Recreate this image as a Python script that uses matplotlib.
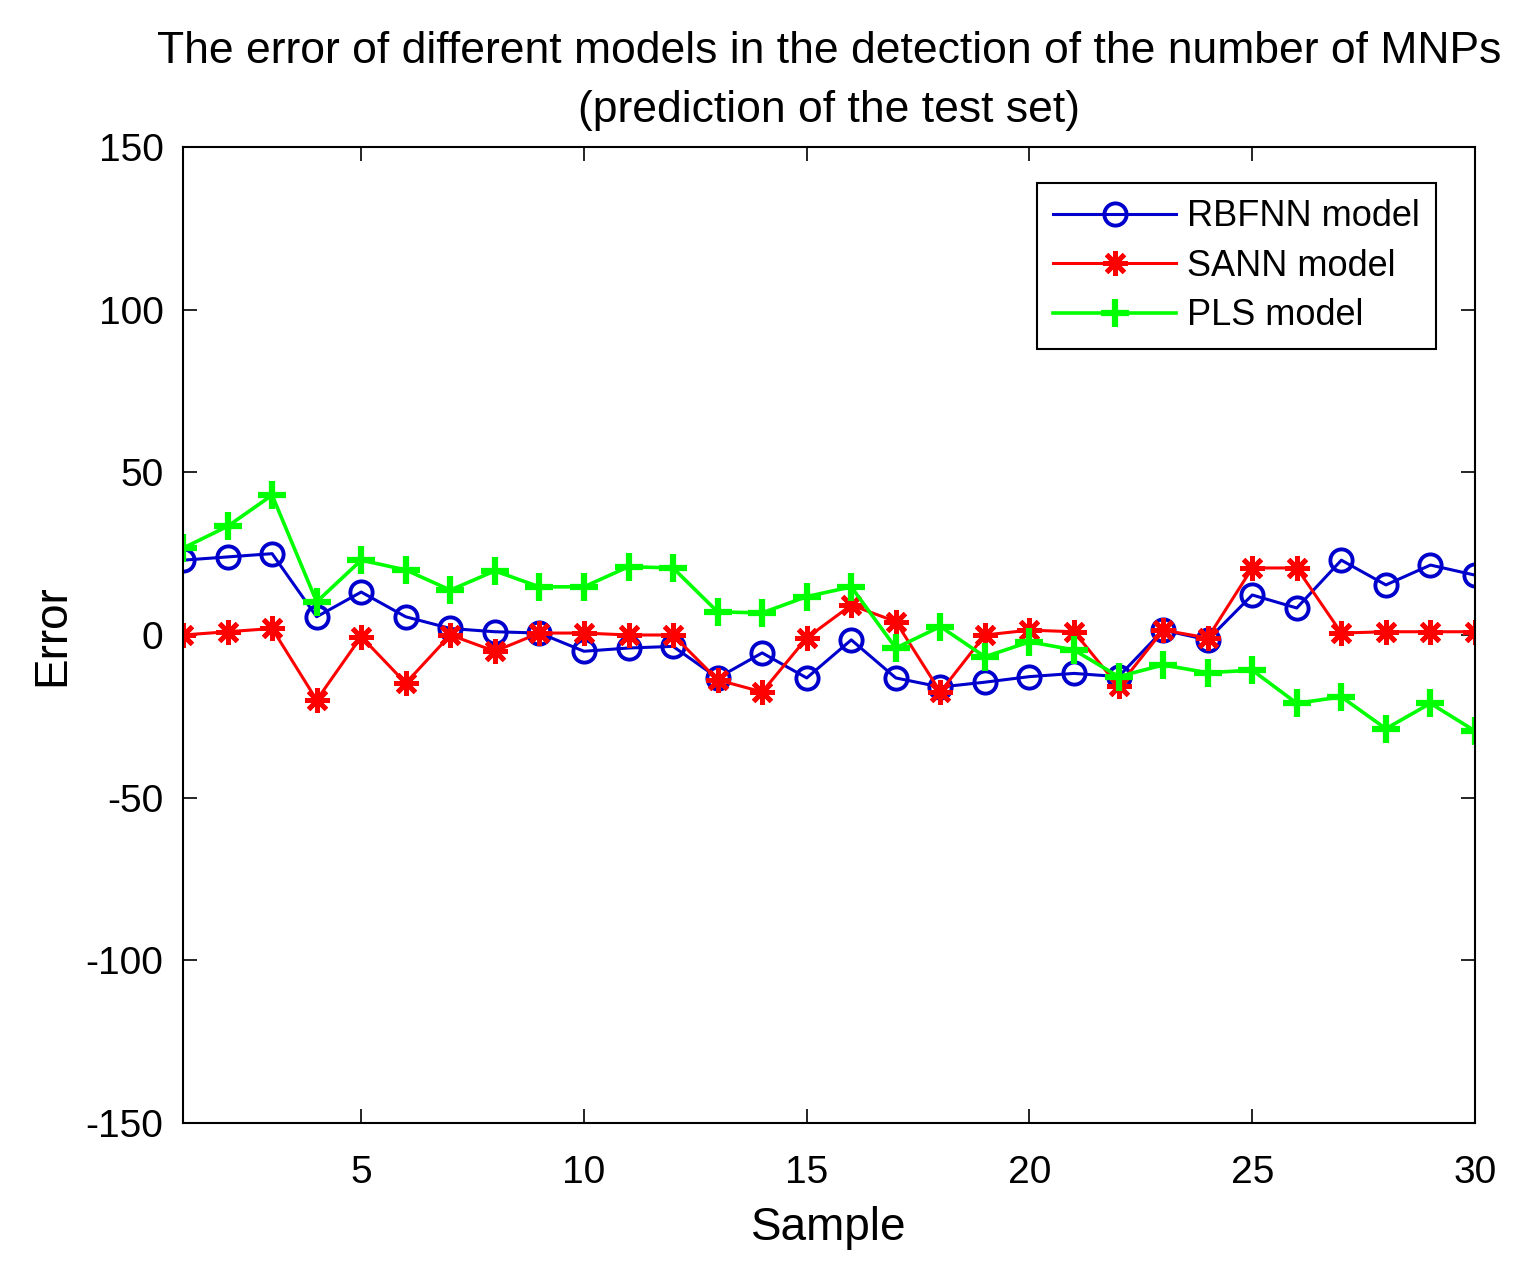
import matplotlib
matplotlib.use("Agg")
import matplotlib.pyplot as plt
import numpy as np

samples = list(range(1, 31))
rbfnn = [23.0, 24.0, 25.0, 5.6, 13.2, 5.6, 2.0, 1.0, 0.6, -5.0,
         -4.0, -3.5, -13.2, -5.5, -13.2, -1.5, -13.2, -16.0, -14.5, -12.8,
         -11.8, -12.8, 1.5, -1.5, 12.3, 8.3, 23.0, 15.4, 21.5, 18.4]
sann = [0.0, 1.0, 2.0, -20.0, -0.5, -14.8, 0.0, -5.0, 0.6, 0.6,
        0.0, 0.0, -13.8, -17.5, -0.9, 9.2, 4.1, -17.5, 0.0, 1.5,
        1.0, -15.8, 1.5, -0.9, 20.6, 20.6, 0.6, 1.0, 1.0, 1.0]
pls = [26.7, 33.4, 43.0, 10.2, 23.0, 20.0, 13.8, 19.7, 14.8, 14.8,
       21.0, 20.6, 7.1, 6.8, 11.8, 14.8, -4.0, 2.6, -6.7, -2.1,
       -4.6, -12.8, -9.2, -11.6, -10.8, -21.0, -19.0, -28.8, -21.0, -29.5]

tick_x = [5, 10, 15, 20, 25, 30]
tick_y = [-150, -100, -50, 0, 50, 100, 150]

plt.rcParams['font.family'] = ['Liberation Sans', 'DejaVu Sans']
plt.rcParams['axes.unicode_minus'] = False
fig = plt.figure(figsize=(15.28, 12.76), dpi=100)
ax = fig.add_axes([183/1528, 1-1123/1276, (1475-183)/1528, (1123-147)/1276])

ax.plot(samples, rbfnn, color=(0, 0, 0.8), lw=2.2, marker='o', ms=16,
        mfc='none', mew=2.8, label='RBFNN model')
ax.plot(samples, sann, color=(1, 0, 0), lw=2.2, marker=(8, 2, 0), ms=18,
        mew=3.5, label='SANN model')
ax.plot(samples, pls, color=(0, 1, 0), lw=2.6, marker='+', ms=20,
        mew=4.5, label='PLS model')

ax.set_xlim(1, 30)
ax.set_ylim(-150, 150)
ax.set_xticks(tick_x)
ax.set_yticks(tick_y)
ax.tick_params(direction='in', top=True, right=True, length=10, width=1.2,
               labelsize=28)
ax.tick_params(axis='x', pad=23)
ax.tick_params(axis='y', pad=14)
for s in ax.spines.values():
    s.set_linewidth(1.5)
ax.set_xlabel('Sample', fontsize=33, labelpad=11)
ax.set_ylabel('Error', fontsize=33, labelpad=8)
ax.set_title('The error of different models in the detection of the number of MNPs\n(prediction of the test set)',
             fontsize=32, pad=18, linespacing=1.55)

leg = ax.legend(loc='upper right', bbox_to_anchor=(1 - 39/1292, 1 - 36/976),
                fontsize=26, fancybox=False, framealpha=1, edgecolor='black',
                handlelength=3.4, borderpad=0.45, labelspacing=0.4,
                handletextpad=0.3, borderaxespad=0)
leg.get_frame().set_linewidth(1.5)

fig.savefig('out.png', dpi=100)
